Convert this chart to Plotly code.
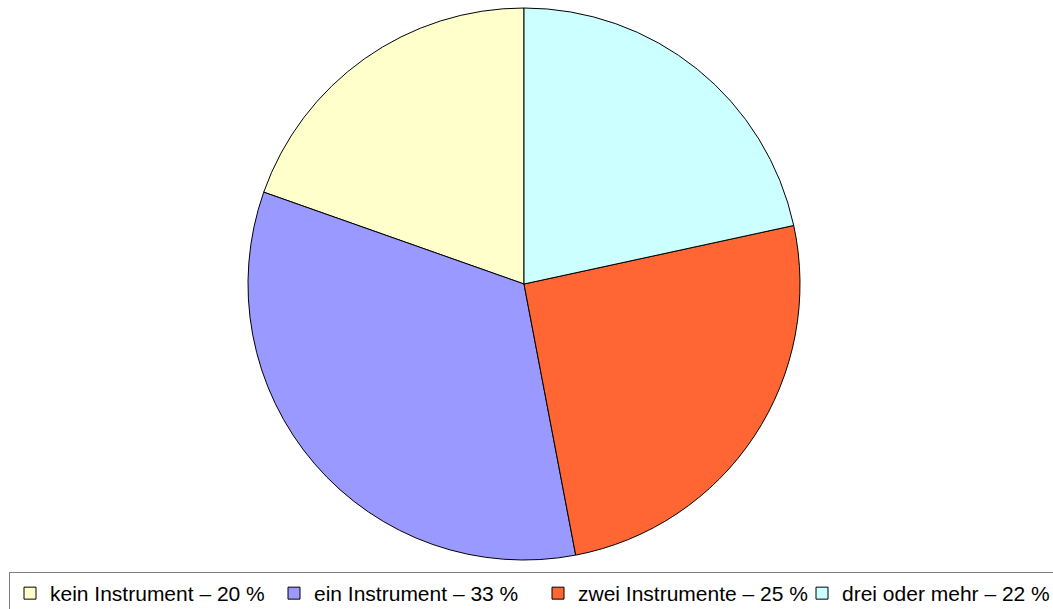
import plotly.graph_objects as go

labels = ["kein Instrument – 20 %", "ein Instrument – 33 %", "zwei Instrumente – 25 %", "drei oder mehr – 22 %"]
values = [19.6, 33.4, 25.4, 21.6]
colors = ["#FFFFCC", "#9999FF", "#FF6633", "#CCFFFF"]

W, H = 1053, 609
fig = go.Figure(go.Pie(
    labels=labels, values=values, sort=False, direction="counterclockwise",
    rotation=-360 * values[0] / sum(values),
    marker=dict(colors=colors, line=dict(color="#000000", width=1)),
    textinfo="none", hoverinfo="label",
    domain=dict(x=[248/W, 800/W], y=[(H-560)/H, (H-8)/H]),
))
fig.update_layout(
    width=W, height=H, margin=dict(l=0, r=0, t=0, b=0, autoexpand=False),
    paper_bgcolor="white", plot_bgcolor="white",
    font=dict(family="Liberation Sans, Arial, sans-serif", size=21, color="#000000"),
    legend=dict(orientation="h", x=9/W, y=(H-572)/H, xanchor="left", yanchor="top",
                bordercolor="#808080", borderwidth=1, entrywidth=219, entrywidthmode="pixels",
                itemclick=False, font=dict(size=21)),
)
fig.write_html("out.html", config={"displayModeBar": False},
               post_script="document.body.style.margin='0';document.body.style.overflow='hidden';")
